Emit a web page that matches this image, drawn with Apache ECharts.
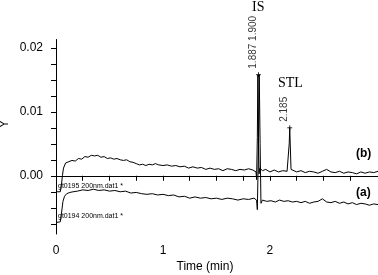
<!DOCTYPE html>
<html>
<head>
<meta charset="utf-8">
<script src="https://cdn.jsdelivr.net/npm/echarts@6/dist/echarts.min.js"></script>
<style>
  html, body { margin: 0; padding: 0; background: #fff; }
  #chart { width: 378px; height: 275px; }
</style>
</head>
<body>
<div id="chart"></div>
<script>
// trace (b): gt0195 200nm.dat1  [time (min), Y]
var traceB = [
  [0, -0.0025], [0.04, -0.0025], [0.05, -0.0015], [0.06, 0.0000], [0.07, 0.0012],
  [0.09, 0.0020], [0.12, 0.0022], [0.15, 0.0024], [0.18, 0.0023], [0.21, 0.0027],
  [0.24, 0.0026], [0.27, 0.0030], [0.30, 0.0029], [0.33, 0.0032], [0.36, 0.0031],
  [0.39, 0.0032], [0.42, 0.0029], [0.45, 0.0030], [0.48, 0.0027], [0.51, 0.0028],
  [0.54, 0.0026], [0.57, 0.0027], [0.60, 0.0025], [0.63, 0.0024], [0.66, 0.0025],
  [0.69, 0.0022], [0.72, 0.0021], [0.75, 0.0019], [0.78, 0.0017], [0.81, 0.0018],
  [0.84, 0.0016], [0.87, 0.0018], [0.90, 0.0017], [0.93, 0.0019], [0.96, 0.0017],
  [1.00, 0.0016], [1.04, 0.0017], [1.08, 0.0015], [1.12, 0.0016], [1.16, 0.0014],
  [1.20, 0.0015], [1.24, 0.0012], [1.28, 0.0014], [1.32, 0.0012], [1.36, 0.0013],
  [1.40, 0.0010], [1.44, 0.0012], [1.48, 0.0010], [1.52, 0.0011], [1.56, 0.0008],
  [1.60, 0.0011], [1.64, 0.0010], [1.68, 0.0008], [1.72, 0.0010], [1.76, 0.0009],
  [1.80, 0.0011], [1.84, 0.0009], [1.87, 0.0006], [1.875, -0.0006], [1.882, 0.0060],
  [1.887, 0.0158], [1.893, 0.0050], [1.898, 0.0003], [1.905, 0.0012], [1.93, 0.0008],
  [1.96, 0.0010], [2.00, 0.0006], [2.04, 0.0009], [2.08, 0.0006], [2.12, 0.0008],
  [2.16, 0.0007], [2.175, 0.0010], [2.18, 0.0050], [2.185, 0.0075], [2.19, 0.0048],
  [2.197, 0.0010], [2.21, 0.0007], [2.25, 0.0006], [2.29, 0.0008], [2.33, 0.0005],
  [2.37, 0.0007], [2.41, 0.0006], [2.45, 0.0004], [2.49, 0.0007], [2.53, 0.0010],
  [2.57, 0.0006], [2.61, 0.0005], [2.65, 0.0007], [2.69, 0.0004], [2.73, 0.0006],
  [2.77, 0.0005], [2.81, 0.0003], [2.85, 0.0006], [2.89, 0.0004], [2.93, 0.0006],
  [2.97, 0.0005], [3.01, 0.0007]
];

// trace (a): gt0194 200nm.dat1
var traceA = [
  [0, -0.0073], [0.04, -0.0072], [0.05, -0.0060], [0.065, -0.0040], [0.08, -0.0032],
  [0.10, -0.0028], [0.13, -0.0026], [0.16, -0.0025], [0.20, -0.0024], [0.25, -0.0022],
  [0.30, -0.0023], [0.35, -0.0021], [0.40, -0.0023], [0.45, -0.0022], [0.50, -0.0024],
  [0.55, -0.0023], [0.60, -0.0025], [0.65, -0.0024], [0.70, -0.0027], [0.75, -0.0026],
  [0.80, -0.0028], [0.85, -0.0029], [0.90, -0.0028], [0.95, -0.0030], [1.00, -0.0029],
  [1.05, -0.0031], [1.10, -0.0030], [1.15, -0.0033], [1.20, -0.0032], [1.25, -0.0035],
  [1.30, -0.0033], [1.35, -0.0035], [1.40, -0.0034], [1.45, -0.0036], [1.50, -0.0035],
  [1.55, -0.0037], [1.60, -0.0035], [1.65, -0.0036], [1.70, -0.0038], [1.75, -0.0036],
  [1.80, -0.0037], [1.85, -0.0035], [1.875, -0.0038], [1.882, -0.0053], [1.892, 0.0040],
  [1.900, 0.0158], [1.908, 0.0050], [1.916, -0.0043], [1.93, -0.0038], [1.97, -0.0040],
  [2.01, -0.0039], [2.05, -0.0041], [2.09, -0.0038], [2.13, -0.0040], [2.17, -0.0039],
  [2.21, -0.0041], [2.25, -0.0040], [2.29, -0.0042], [2.33, -0.0040], [2.37, -0.0043],
  [2.41, -0.0041], [2.45, -0.0040], [2.49, -0.0036], [2.53, -0.0041], [2.57, -0.0042],
  [2.61, -0.0040], [2.65, -0.0043], [2.69, -0.0041], [2.73, -0.0044], [2.77, -0.0042],
  [2.81, -0.0045], [2.85, -0.0043], [2.89, -0.0044], [2.93, -0.0046], [2.97, -0.0044],
  [3.01, -0.0045]
];

var peakMarks = [[1.893, 0.0158, '1.887 1.900'], [2.185, 0.0075, '2.185']];

var xTickValues = [0, 0.25, 0.5, 0.75, 1, 1.25, 1.5, 1.75, 2, 2.25, 2.5, 2.75];
var xLabelValues = [0, 1, 2];
var yTickValues = [-0.0075, -0.005, -0.0025, 0, 0.0025, 0.005, 0.0075, 0.01, 0.0125, 0.015, 0.0175, 0.02];
var yLabelValues = [0, 0.01, 0.02];

var chart = echarts.init(document.getElementById('chart'));
var axisFont = { color: '#000', fontFamily: 'Liberation Sans', fontSize: 12 };

var option = {
  animation: false,
  backgroundColor: '#fff',
  grid: { left: 56, right: 0, top: 39.5, bottom: 41, containLabel: false, outerBoundsMode: 'none' },
  xAxis: {
    type: 'value',
    min: 0,
    max: 3.01,
    name: 'Time (min)',
    nameLocation: 'middle',
    nameGap: 27,
    nameMoveOverlap: false,
    nameTextStyle: { color: '#000', fontFamily: 'Liberation Sans', fontSize: 12, padding: [0, 24, 0, 0] },
    axisLine: { lineStyle: { color: '#000', width: 1 } },
    axisTick: { length: 5, lineStyle: { color: '#000' }, customValues: xTickValues },
    axisLabel: Object.assign({ margin: 11, customValues: xLabelValues }, axisFont),
    splitLine: { show: false }
  },
  yAxis: {
    type: 'value',
    min: -0.0091,
    max: 0.0213,
    axisLine: { lineStyle: { color: '#000', width: 1 } },
    axisTick: { length: 5, lineStyle: { color: '#000' }, customValues: yTickValues },
    axisLabel: Object.assign({ margin: 13, customValues: yLabelValues,
      formatter: function (v) { return v.toFixed(2); } }, axisFont),
    splitLine: { show: false }
  },
  series: [
    {
      name: '(b)', type: 'line', data: traceB, showSymbol: false,
      lineStyle: { color: '#000', width: 1 }
    },
    {
      name: '(a)', type: 'line', data: traceA, showSymbol: false,
      lineStyle: { color: '#000', width: 1 }
    },
    {
      type: 'scatter',
      data: peakMarks.map(function (p) { return { value: [p[0], p[1]], name: p[2] }; }),
      symbol: 'path://M0,-1L0,1M-1,0L1,0',
      symbolSize: 5,
      itemStyle: { color: 'none', borderColor: '#000', borderWidth: 1 },
      label: {
        show: true, position: 'top', rotate: 90, distance: 1, align: 'left',
        formatter: '{b}', color: '#000', fontFamily: 'Liberation Sans', fontSize: 10
      }
    }
  ],
  graphic: [
    { type: 'text', x: 5, y: 124, rotation: Math.PI / 2,
      style: { text: 'Y', font: '12px "Liberation Sans"', fill: '#000', align: 'center', verticalAlign: 'middle' } },
    { type: 'text', left: 252, top: 0, style: { text: 'IS', font: '14px "Liberation Serif"', fill: '#000' } },
    { type: 'text', left: 278, top: 76, style: { text: 'STL', font: '14px "Liberation Serif"', fill: '#000' } },
    { type: 'text', left: 356, top: 148, style: { text: '(b)', font: 'bold 12px "Liberation Sans"', fill: '#000' } },
    { type: 'text', left: 356, top: 187, style: { text: '(a)', font: 'bold 12px "Liberation Sans"', fill: '#000' } },
    { type: 'text', left: 58, top: 183, style: { text: 'gt0195 200nm.dat1 *', font: '7px "Liberation Sans"', fill: '#000' } },
    { type: 'text', left: 58, top: 213, style: { text: 'gt0194 200nm.dat1 *', font: '7px "Liberation Sans"', fill: '#000' } }
  ]
};

option && chart.setOption(option);
</script>
</body>
</html>
